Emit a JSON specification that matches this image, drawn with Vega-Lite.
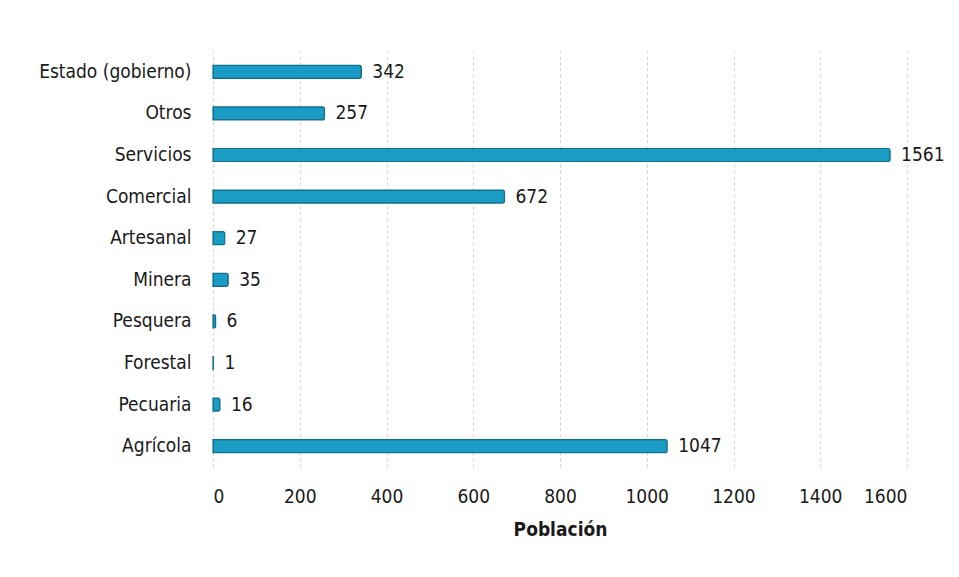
{
  "$schema": "https://vega.github.io/schema/vega-lite/v6.json",
  "autosize": {"type": "none"},
  "padding": {"left": 213, "top": 51, "right": 52, "bottom": 110},
  "width": 694,
  "height": 416,
  "background": "#ffffff",
  "config": {
    "view": {"stroke": null},
    "font": "DejaVu Sans Condensed, sans-serif"
  },
  "data": {
    "values": [
      {"sector": "Estado (gobierno)", "poblacion": 342},
      {"sector": "Otros", "poblacion": 257},
      {"sector": "Servicios", "poblacion": 1561},
      {"sector": "Comercial", "poblacion": 672},
      {"sector": "Artesanal", "poblacion": 27},
      {"sector": "Minera", "poblacion": 35},
      {"sector": "Pesquera", "poblacion": 6},
      {"sector": "Forestal", "poblacion": 1},
      {"sector": "Pecuaria", "poblacion": 16},
      {"sector": "Agrícola", "poblacion": 1047}
    ]
  },
  "encoding": {
    "y": {
      "field": "sector",
      "type": "nominal",
      "sort": null,
      "scale": {"paddingInner": 0, "paddingOuter": 0},
      "axis": {
        "title": null,
        "domain": false,
        "ticks": false,
        "grid": false,
        "labelFont": "DejaVu Sans Condensed, sans-serif",
        "labelFontSize": 19,
        "labelColor": "#1a1a1a",
        "labelPadding": 22
      }
    },
    "x": {
      "field": "poblacion",
      "type": "quantitative",
      "scale": {"domain": [0, 1600], "nice": false},
      "axis": {
        "values": [0, 200, 400, 600, 800, 1000, 1200, 1400, 1600],
        "format": "d",
        "title": "Población",
        "titleFont": "DejaVu Sans Condensed, sans-serif",
        "titleFontSize": 19,
        "titleFontWeight": "bold",
        "titleColor": "#1a1a1a",
        "titlePadding": 14,
        "domain": false,
        "ticks": false,
        "labelFont": "DejaVu Sans Condensed, sans-serif",
        "labelFontSize": 19,
        "labelColor": "#1a1a1a",
        "labelPadding": 20,
        "gridColor": "#d0d0d0",
        "gridDash": [3, 3],
        "gridWidth": 1
      }
    }
  },
  "layer": [
    {
      "mark": {
        "type": "bar",
        "size": 13,
        "color": "#1b9cc4",
        "stroke": "#13708d",
        "strokeWidth": 1.2,
        "cornerRadiusEnd": 2
      }
    },
    {
      "mark": {
        "type": "text",
        "align": "left",
        "baseline": "middle",
        "dx": 11,
        "fontSize": 19,
        "color": "#1a1a1a",
        "font": "DejaVu Sans Condensed, sans-serif"
      },
      "encoding": {"text": {"field": "poblacion", "type": "quantitative", "format": "d"}}
    }
  ]
}
